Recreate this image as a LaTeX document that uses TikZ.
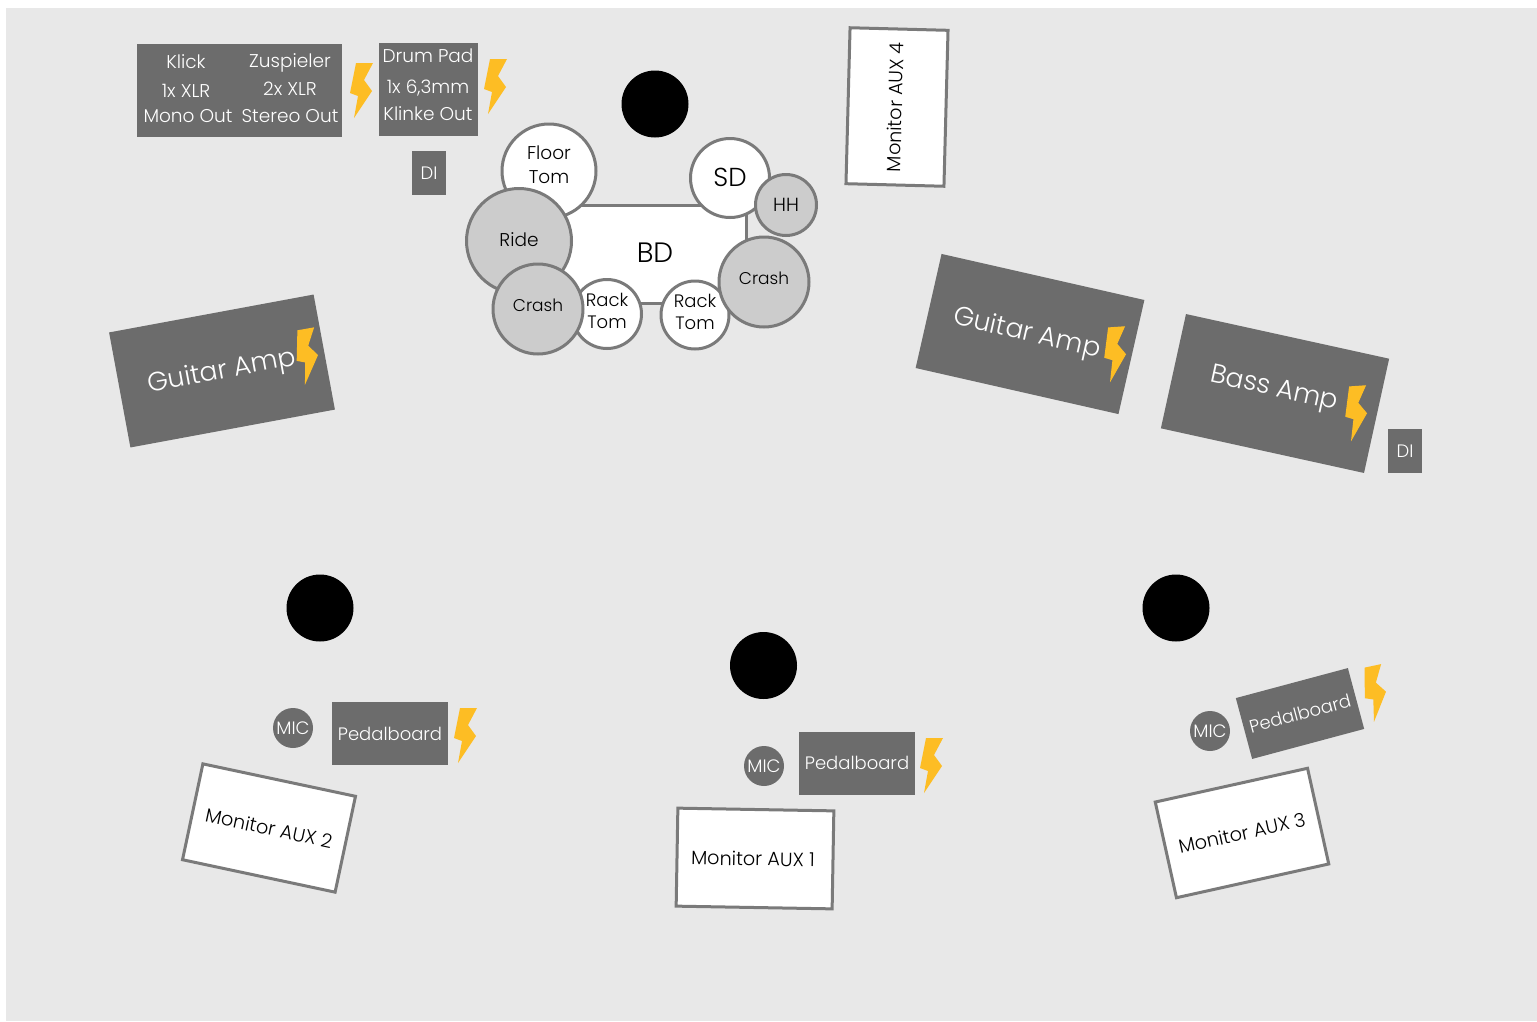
\documentclass[tikz,border=0pt]{standalone}
\usepackage{fontspec}
\setmainfont{Poppins Light}
\definecolor{stagebg}{HTML}{E8E8E8}
\definecolor{boxgrey}{HTML}{6C6C6C}
\definecolor{ringgrey}{HTML}{7A7A7A}
\definecolor{cymbal}{HTML}{CCCCCC}
\definecolor{boltcol}{HTML}{FDBD24}
\tikzset{
 x=1pt,y=-1pt,
 greybox/.style={fill=boxgrey,draw=none,text=white,inner sep=0pt,align=center},
 amp/.style={greybox,minimum width=208pt,minimum height=117pt},
 amptext/.style={inner sep=0pt,text=white,font=\fontsize{26.5}{30}\selectfont},
 pedal/.style={greybox,minimum width=116pt,minimum height=63pt,font=\fontsize{18}{22}\selectfont},
 di/.style={greybox,minimum width=34pt,minimum height=44pt,font=\fontsize{18}{22}\selectfont},
 lbl/.style={inner sep=0pt,anchor=base,text=white,font=\fontsize{18.5}{23}\selectfont},
 monitor/.style={fill=white,draw=ringgrey,line width=3pt,minimum width=156pt,minimum height=98pt,inner sep=0pt,text=black,font=\fontsize{19.2}{23}\selectfont},
 drum/.style={circle,fill=white,draw=ringgrey,line width=3pt,inner sep=0pt},
 cym/.style={drum,fill=cymbal},
 kittext/.style={inner sep=0pt,align=center,text=black,font=\fontsize{18.5}{24}\selectfont},
 racktext/.style={kittext,font=\fontsize{18}{22}\selectfont},
 mic/.style={circle,fill=boxgrey,text=white,minimum size=40pt,inner sep=0pt,font=\fontsize{18}{22}\selectfont},
 person/.style={circle,fill=black,minimum size=67pt,inner sep=0pt},
 pics/bolt/.style={code={\fill[boltcol] (-5,-27) -- (12,-27) -- (3,-10) -- (11,1) -- (-7,28) -- (-3,6) -- (-11,3) -- cycle;}},
}
\begin{document}
\begin{tikzpicture}
\useasboundingbox (0,0) rectangle (1537,1021);
\fill[stagebg] (6,8) rectangle (1537,1021);

% people
\node[person] (p0) at (655,104) {};
\node[person] (p1) at (320,608) {};
\node[person] (p2) at (763.5,665.5) {};
\node[person] (p3) at (1176,608) {};

% top-left boxes
\node[greybox,minimum width=205pt,minimum height=93pt] (klickbox) at (239.5,90.5) {};
\node[lbl] (k1) at (186,68) {Klick};
\node[lbl] (k2) at (186,97) {1x XLR};
\node[lbl] (k3) at (188,122) {Mono Out};
\node[lbl] (z1) at (290,67) {Zuspieler};
\node[lbl] (z2) at (290,95) {2x XLR};
\node[lbl] (z3) at (290,122) {Stereo Out};
\node[greybox,minimum width=99pt,minimum height=93pt] (padbox) at (428.5,89.5) {};
\node[lbl] (d1) at (428,62) {Drum Pad};
\node[lbl] (d2) at (428,93) {1x 6,3mm};
\node[lbl] (d3) at (428,120) {Klinke Out};
\node[di] (di1) at (429,173) {DI};
\pic at (361,90) {bolt};
\pic at (495,86) {bolt};

% drum kit
\node[fill=white,draw=ringgrey,line width=3pt,minimum width=184pt,minimum height=98pt,inner sep=0pt] (bd) at (654,254) {};
\node[kittext,font=\fontsize{28}{30}\selectfont] (bdl) at (655,253) {BD};
\node[drum,minimum size=94pt] (ft) at (549,171) {};
\node[kittext] (ftl) at (549,165) {Floor\\Tom};
\node[drum,minimum size=79pt] (sd) at (730,178) {};
\node[kittext,font=\fontsize{26}{30}\selectfont] (sdl) at (730,177) {SD};
\node[cym,minimum size=61pt] (hh) at (786,205) {};
\node[kittext,font=\fontsize{19}{22}\selectfont] (hhl) at (786,205) {HH};
\node[cym,minimum size=105pt] (ride) at (519,241) {};
\node[kittext] (ridel) at (519,239.5) {Ride};
\node[drum,minimum size=69pt] (rt1) at (607,314) {};
\node[racktext] (rt1l) at (607,311) {Rack\\Tom};
\node[drum,minimum size=68pt] (rt2) at (695,315) {};
\node[racktext] (rt2l) at (695,312) {Rack\\Tom};
\node[cym,minimum size=90pt] (cr1) at (538,309) {};
\node[kittext,font=\fontsize{17}{22}\selectfont] (cr1l) at (538,305.5) {Crash};
\node[cym,minimum size=90pt] (cr2) at (764,282) {};
\node[kittext,font=\fontsize{17}{22}\selectfont] (cr2l) at (764,278.5) {Crash};

% amps
\node[amp,rotate=10.5] (ga1) at (222,371) {};
\node[amptext,rotate=10.5] (ga1l) at (222,372) {Guitar Amp};
\pic[rotate=10] at (307,356) {bolt};
\node[amp,rotate=-12.8] (ga2) at (1030,334) {};
\node[amptext,rotate=-12.8] (ga2l) at (1027,334) {Guitar Amp};
\pic[rotate=4] at (1115,354) {bolt};
\node[amp,rotate=-12.4] (ba) at (1275,393.5) {};
\node[amptext,rotate=-12.4] (bal) at (1274,390) {Bass Amp};
\pic[rotate=4] at (1356,413) {bolt};
\node[di] (di2) at (1405,451) {DI};

% monitors
\node[monitor,rotate=88.5] (m4) at (897,107) {};
\node[inner sep=0pt,rotate=88.5,font=\fontsize{19.2}{23}\selectfont] (m4l) at (895,107) {Monitor AUX 4};
\node[monitor,rotate=-1] (m1) at (755,858.5) {\hspace*{-4pt}Monitor AUX 1};
\node[monitor,rotate=-12] (m2) at (269,828) {Monitor AUX 2};
\node[monitor,rotate=12.5] (m3) at (1242,833) {Monitor AUX 3};

% pedalboards and mics
\node[pedal] (pb1) at (390,733.5) {Pedalboard};
\pic at (465,735) {bolt};
\node[mic] (mic1) at (293,728) {MIC};
\node[pedal] (pb2) at (857,763) {Pedalboard};
\pic at (931,765) {bolt};
\node[mic] (mic2) at (764,766) {MIC};
\node[pedal,rotate=15] (pb3) at (1300,713.5) {Pedalboard};
\pic[rotate=12] at (1375,693) {bolt};
\node[mic] (mic3) at (1210,731) {MIC};
\end{tikzpicture}
\end{document}
